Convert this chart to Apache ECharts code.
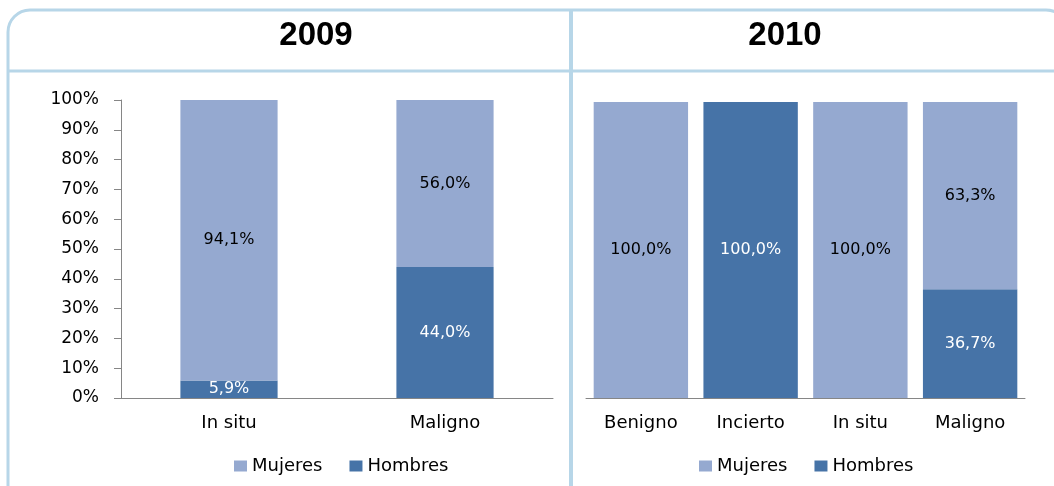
<!DOCTYPE html>
<html>
<head>
<meta charset="utf-8">
<script src="https://cdn.jsdelivr.net/npm/echarts@6/dist/echarts.min.js"></script>
<style>
  html, body { margin: 0; padding: 0; background: #fff; }
  #chart { width: 1054px; height: 486px; }
</style>
</head>
<body>
<div id="chart"></div>
<script>
var years = ['2009', '2010'];
var cats2009 = ['In situ', 'Maligno'];
var mujeres2009 = [94.1, 56.0];
var hombres2009 = [5.9, 44.0];
var cats2010 = ['Benigno', 'Incierto', 'In situ', 'Maligno'];
var mujeres2010 = [100, 0, 100, 63.3];
var hombres2010 = [0, 100, 0, 36.7];
var yTicks = [0, 100, 10]; // min, max, step

var colMujeres = '#95a9d0';
var colHombres = '#4673a7';
var frame = '#b7d6e8';
var font = 'DejaVu Sans';

function pct(p) {
  if (!p.value) return '';
  return p.value.toFixed(1).replace('.', ',') + '%';
}

function catAxis(idx, cats) {
  return {
    type: 'category', gridIndex: idx, data: cats,
    axisLine: { lineStyle: { color: '#868686' } },
    axisTick: { length: 7, lineStyle: { color: '#868686' } },
    axisLabel: { color: '#000', fontFamily: font, fontSize: 18, margin: 16 }
  };
}

function barSeries(name, idx, data, color, labelColor, width) {
  return {
    name: name, type: 'bar', stack: 's' + idx,
    xAxisIndex: idx, yAxisIndex: idx,
    data: data, barWidth: width,
    itemStyle: { color: color },
    label: { show: true, position: 'inside', formatter: pct,
      color: labelColor, fontFamily: font, fontSize: 16 }
  };
}

function legendAt(x) {
  return {
    data: ['Mujeres', 'Hombres'], left: x, top: 452,
    icon: 'rect', itemWidth: 13, itemHeight: 11, itemGap: 27,
    textStyle: { color: '#000', fontFamily: font, fontSize: 18 }
  };
}

var chart = echarts.init(document.getElementById('chart'));
chart.setOption({
  animation: false,
  legend: [legendAt(229), legendAt(694)],
  grid: [
    { left: 121, right: 501, top: 100, bottom: 88 },
    { left: 586, right: 29, top: 102, bottom: 88 }
  ],
  xAxis: [catAxis(0, cats2009), catAxis(1, cats2010)],
  yAxis: [
    { type: 'value', gridIndex: 0, min: yTicks[0], max: yTicks[1], interval: yTicks[2],
      splitLine: { show: false },
      axisLine: { show: true, lineStyle: { color: '#868686' } },
      axisTick: { show: true, length: 7, lineStyle: { color: '#868686' } },
      axisLabel: { formatter: '{value}%', color: '#000', fontFamily: font, fontSize: 17, margin: 22 } },
    { type: 'value', gridIndex: 1, min: yTicks[0], max: yTicks[1], show: false,
      splitLine: { show: false } }
  ],
  series: [
    barSeries('Hombres', 0, hombres2009, colHombres, '#fff', '45%'),
    barSeries('Mujeres', 0, mujeres2009, colMujeres, '#000', '45%'),
    barSeries('Hombres', 1, hombres2010, colHombres, '#fff', '86%'),
    barSeries('Mujeres', 1, mujeres2010, colMujeres, '#000', '86%')
  ],
  graphic: [
    { type: 'rect', shape: { x: 8, y: 10, width: 1060, height: 520, r: 22 },
      style: { fill: 'none', stroke: frame, lineWidth: 3 }, silent: true },
    { type: 'line', shape: { x1: 8, y1: 71, x2: 1054, y2: 71 },
      style: { stroke: frame, lineWidth: 3 }, silent: true },
    { type: 'line', shape: { x1: 571, y1: 10, x2: 571, y2: 486 },
      style: { stroke: frame, lineWidth: 4 }, silent: true },
    { type: 'text', x: 316, y: 36,
      style: { text: years[0], fill: '#000', font: 'bold 33px "Liberation Sans"',
        textAlign: 'center', textVerticalAlign: 'middle' } },
    { type: 'text', x: 785, y: 36,
      style: { text: years[1], fill: '#000', font: 'bold 33px "Liberation Sans"',
        textAlign: 'center', textVerticalAlign: 'middle' } }
  ]
});
</script>
</body>
</html>
